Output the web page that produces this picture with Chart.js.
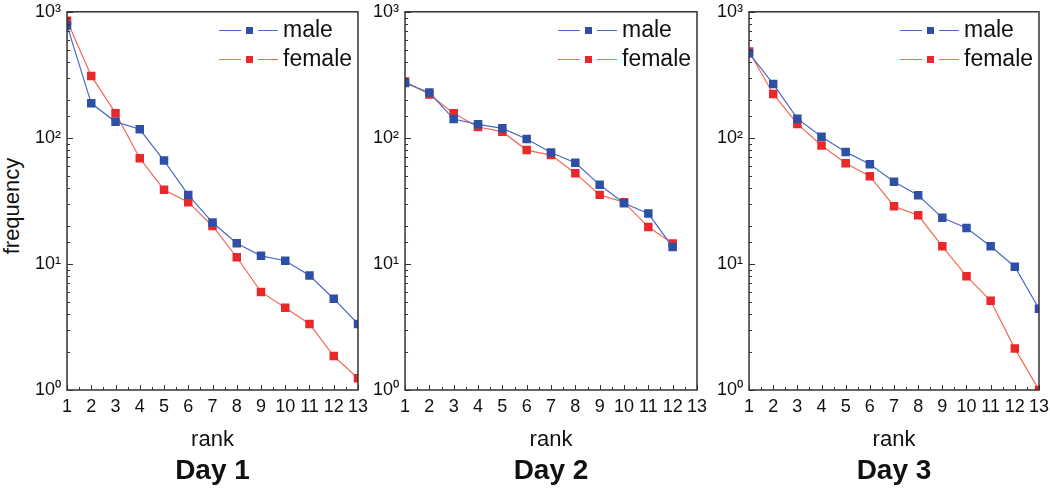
<!DOCTYPE html>
<html>
<head>
<meta charset="utf-8">
<script src="https://cdn.jsdelivr.net/npm/chart.js@4/dist/chart.umd.min.js"></script>
<style>
  html, body { margin: 0; padding: 0; background: #fff; }
  body { width: 1050px; height: 489px; position: relative; overflow: hidden;
         font-family: "Liberation Sans", Arial, sans-serif; color: #111; }
  canvas { position: absolute; top: 0; }
  .lbl { position: absolute; white-space: nowrap; line-height: 1; }
</style>
</head>
<body>
<canvas id="c1" width="370" height="489"></canvas>
<canvas id="c2" width="340" height="489"></canvas>
<canvas id="c3" width="340" height="489"></canvas>

<script>
// donnees
const ranks = [1, 2, 3, 4, 5, 6, 7, 8, 9, 10, 11, 12, 13];
const seriesNames = ['male', 'female'];
const dayNames = ['Day 1', 'Day 2', 'Day 3'];

const day1Male   = [780, 188, 134, 117, 66, 35.3, 21.3, 14.6, 11.6, 10.6, 8.1, 5.3, 3.34];
const day1Female = [850, 310, 157, 69, 38.7, 30.9, 20.0, 11.3, 6.0, 4.5, 3.34, 1.86, 1.24];
const day2Male   = [272, 229, 141, 128, 119, 98, 76.5, 63.4, 42.4, 30.3, 25.1, 13.6];
const day2Female = [280, 221, 157, 122, 112, 80, 73, 52.5, 35.3, 30.9, 19.6, 14.5];
const day3Male   = [470, 268, 142, 102, 77.4, 61.8, 44.8, 35.1, 23.2, 19.3, 13.8, 9.5, 4.42];
const day3Female = [484, 223, 129, 87, 63, 49.7, 28.7, 24.3, 13.8, 8.0, 5.1, 2.13, 1.0];

const yDecades = [1, 10, 100, 1000];
const yDecadeLabels = ['10\u2070', '10\u00b9', '10\u00b2', '10\u00b3'];

const lineColors = ['#4a6bc4', '#f26a55'];
const markColors = ['#2d4fa5', '#e8282a'];

// zone de trace voulue pour chaque panneau (pixels de la page)
const panneaux = [
  { id: 'c1', left: 67,  right: 358,  male: day1Male, female: day1Female },
  { id: 'c2', left: 405, right: 697,  male: day2Male, female: day2Female },
  { id: 'c3', left: 749, right: 1039, male: day3Male, female: day3Female }
];
const zoneHaut = 12, zoneBas = 390;

const tickFont = { family: '"Liberation Sans", Arial, sans-serif', size: 18 };

// cadre + petites graduations vers l'interieur
const cadre = {
  id: 'cadre',
  afterDatasetsDraw(chart) {
    const { ctx, chartArea: a, scales: { x, y } } = chart;
    ctx.save();
    ctx.strokeStyle = '#333';
    ctx.lineWidth = 1;
    ctx.beginPath();
    x.ticks.forEach(t => {
      const px = Math.round(x.getPixelForValue(t.value)) + 0.5;
      ctx.moveTo(px, a.bottom); ctx.lineTo(px, a.bottom - 5);
      if (t.value + 0.5 < x.max) {
        const ph = Math.round(x.getPixelForValue(t.value + 0.5)) + 0.5;
        ctx.moveTo(ph, a.bottom); ctx.lineTo(ph, a.bottom - 3);
      }
    });
    y.ticks.forEach(t => {
      const py = Math.round(y.getPixelForValue(t.value)) + 0.5;
      const major = yDecades.includes(t.value);
      ctx.moveTo(a.left, py); ctx.lineTo(a.left + (major ? 6 : 3), py);
    });
    ctx.stroke();
    ctx.lineWidth = 1.5;
    ctx.strokeRect(a.left, a.top, a.right - a.left, a.bottom - a.top);
    ctx.restore();
  }
};

function ajouterTexte(txt, x, y, css) {
  const d = document.createElement('div');
  d.className = 'lbl';
  d.textContent = txt;
  d.style.cssText += css;
  d.style.left = x + 'px';
  d.style.top = y + 'px';
  document.body.appendChild(d);
  return d;
}

function ajouterBoite(x, y, w, h, color) {
  const d = document.createElement('div');
  d.style.cssText = 'position:absolute;left:' + x + 'px;top:' + y + 'px;width:' + w +
    'px;height:' + h + 'px;background:' + color;
  document.body.appendChild(d);
}

panneaux.forEach((p, i) => {
  const valeurs = [p.male, p.female];
  const datasets = valeurs.map((vals, k) => ({
    label: seriesNames[k],
    data: vals.map((v, j) => ({ x: ranks[j], y: v })),
    borderColor: lineColors[k],
    borderWidth: 1.2,
    pointStyle: 'rect',
    pointRadius: 6,
    pointBackgroundColor: markColors[k],
    pointBorderColor: markColors[k],
    pointBorderWidth: 0,
    tension: 0
  }));

  const canvas = document.getElementById(p.id);
  const chart = new Chart(canvas, {
    type: 'line',
    data: { datasets },
    plugins: [cadre],
    options: {
      responsive: false,
      maintainAspectRatio: false,
      animation: false,
      layout: { padding: { top: 4, right: 4, left: 0, bottom: 0 } },
      plugins: { legend: { display: false }, tooltip: { enabled: false } },
      scales: {
        x: {
          type: 'linear', min: 1, max: 13,
          grid: { display: false, drawTicks: false },
          border: { display: false },
          ticks: { stepSize: 1, autoSkip: false, maxRotation: 0, padding: 6,
                   color: '#111', font: tickFont },
          afterFit(s) { s.height = 99; }
        },
        y: {
          type: 'logarithmic', min: 1, max: 1000,
          grid: { display: false, drawTicks: false },
          border: { display: false },
          ticks: {
            autoSkip: false, padding: 6, color: '#111', font: tickFont,
            callback(v) {
              const idx = yDecades.findIndex(d => Math.abs(d - v) < 1e-9);
              return idx >= 0 ? yDecadeLabels[idx] : '';
            }
          }
        }
      }
    }
  });

  // on recale le canvas pour que la zone de trace tombe au bon endroit
  const a0 = chart.chartArea;
  const padL = a0.left, padT = a0.top;
  const padR = chart.width - a0.right, padB = chart.height - a0.bottom;
  const w = Math.round(padL + (p.right - p.left) + padR);
  const h = Math.round(padT + (zoneBas - zoneHaut) + padB);
  chart.resize(w, h);
  canvas.style.left = (p.left - padL) + 'px';
  canvas.style.top = (zoneHaut - padT) + 'px';

  const cx = (p.left + p.right) / 2;
  ajouterTexte('rank', cx, 428, 'font-size:22px;transform:translateX(-50%);');
  ajouterTexte(dayNames[i], cx, 456, 'font-size:28px;font-weight:bold;transform:translateX(-50%);');

  // legende dans le coin haut droit
  seriesNames.forEach((nom, k) => {
    const yc = 30 + k * 29;
    ajouterBoite(p.right - 139, yc, 22, 1, lineColors[k]);
    ajouterBoite(p.right - 112, yc - 3, 7, 7, markColors[k]);
    ajouterBoite(p.right - 100, yc, 20, 1, lineColors[k]);
    ajouterTexte(nom, p.right - 75, yc - 12, 'font-size:23px;');
  });
});

ajouterTexte('frequency', 12, 206,
  'font-size:22px;transform:translate(-50%,-50%) rotate(-90deg);');
</script>
</body>
</html>
